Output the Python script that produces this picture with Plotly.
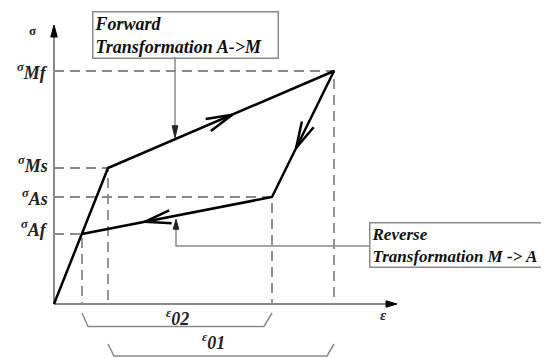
import math
import plotly.graph_objects as go

# ---------------- data (schematic units) ----------------
point_names = ["O", "Ms", "Mf", "As", "Af"]
strain = [0.0, 5.4, 28.0, 21.8, 2.8]
stress = [0.0, 13.6, 23.3, 10.7, 7.0]

# critical levels with dashed guides
level_names = ["Mf", "Ms", "As", "Af"]

# direction chevrons: segment start, segment end, fraction along it
chev_from = ["Ms", "Mf", "As"]
chev_to = ["Mf", "As", "Af"]
chev_frac = [0.55, 0.61, 0.67]

# strain brackets
bracket_labels = ["ε02", "ε01"]
bracket_from = ["Af", "Ms"]
bracket_to = ["As", "Mf"]

axis_max_strain = 34.3
axis_max_stress = 27.9

box_texts = ["Forward<br>Transformation A->M", "Reverse<br>Transformation M -> A"]

# ---------------- helpers ----------------
P = {n: (e, s) for n, e, s in zip(point_names, strain, stress)}
FONT = "Liberation Serif"
GRAY = "#8a8a8a"

fig = go.Figure()


def line(xs, ys, color="black", width=2.5, dash=None):
    fig.add_trace(go.Scatter(x=xs, y=ys, mode="lines",
                             line=dict(color=color, width=width, dash=dash),
                             hoverinfo="skip"))


def head(tip, d, L, w, color="black"):
    n = math.hypot(*d)
    ux, uy = d[0] / n, d[1] / n
    bx, by = tip[0] - ux * L, tip[1] - uy * L
    nx, ny = -uy, ux
    fig.add_trace(go.Scatter(
        x=[tip[0], bx + nx * w, bx - nx * w, tip[0]],
        y=[tip[1], by + ny * w, by - ny * w, tip[1]],
        mode="lines", fill="toself", fillcolor=color,
        line=dict(color=color, width=1), hoverinfo="skip"))


def chevron(tip, d, L, ang):
    n = math.hypot(*d)
    ux, uy = -d[0] / n, -d[1] / n
    xs, ys = [], []
    for sgn in (1, -1):
        a = math.radians(ang) * sgn
        rx = ux * math.cos(a) - uy * math.sin(a)
        ry = ux * math.sin(a) + uy * math.cos(a)
        xs += [tip[0] + rx * L, tip[0], None]
        ys += [tip[1] + ry * L, tip[1], None]
    line(xs, ys, width=2.5)


def on_line(a, b, x):
    (x0, y0), (x1, y1) = P[a], P[b]
    return y0 + (x - x0) * (y1 - y0) / (x1 - x0)


# ---------------- axes ----------------
line([0, axis_max_strain - 0.8], [0, 0], color=GRAY, width=2)
line([0, 0], [0, axis_max_stress - 0.8], color=GRAY, width=2)
head((axis_max_strain, 0), (1, 0), 1.1, 0.32)
head((0, axis_max_stress), (0, 1), 1.2, 0.32)

# ---------------- dashed guides ----------------
for n in level_names:
    e, s = P[n]
    line([0, e, e], [s, s, 0], color=GRAY, width=1.8, dash="10px,6px")

# ---------------- main loop ----------------
line([P[n][0] for n in point_names], [P[n][1] for n in point_names],
     color="black", width=2.5)

for a, b, f in zip(chev_from, chev_to, chev_frac):
    (x0, y0), (x1, y1) = P[a], P[b]
    tip = (x0 + f * (x1 - x0), y0 + f * (y1 - y0))
    chevron(tip, (x1 - x0, y1 - y0), 2.7, 14)

# ---------------- brackets ----------------
br_geom = [(-0.9, -2.25, 0.6, 0.8), (-4.0, -5.2, 0.6, 0.7)]
for (lab, a, b), (ytop, ybot, il, ir) in zip(zip(bracket_labels, bracket_from, bracket_to), br_geom):
    x0, x1 = P[a][0], P[b][0]
    line([x0, x0 + il, x1 - ir, x1], [ytop, ybot, ybot, ytop], color=GRAY, width=1.5)

bracket_label_pos = [(12.3, -1.35), (15.9, -3.75)]
for lab, (bx, by) in zip(bracket_labels, bracket_label_pos):
    fig.add_annotation(x=bx, y=by, showarrow=False,
                       text="<b><i><sup>" + lab[0] + "</sup>" + lab[1:] + "</i></b>",
                       font=dict(family=FONT, size=18, color="#222"))

# ---------------- level labels ----------------
label_shift = {"Mf": 0, "Ms": 4, "As": 0, "Af": 6}
for n in level_names:
    fig.add_annotation(x=-0.4, y=P[n][1], xanchor="right", yanchor="middle",
                       yshift=label_shift[n], showarrow=False,
                       text="<b><i><sup>σ</sup>" + n + "</i></b>",
                       font=dict(family=FONT, size=18, color="#222"))

# axis labels
fig.add_annotation(x=-2.2, y=27.4, showarrow=False, text="<b>σ</b>",
                   font=dict(family=FONT, size=13, color="#222"))
fig.add_annotation(x=32.9, y=-1.1, showarrow=False, text="<b><i>ε</i></b>",
                   font=dict(family=FONT, size=15, color="#222"))

# ---------------- callout boxes ----------------
fig.add_annotation(x=3.8, y=29.3, xanchor="left", yanchor="top", showarrow=False,
                   text="<b><i>" + box_texts[0] + "</i></b>", align="left",
                   width=182, bordercolor=GRAY, borderwidth=1.5, borderpad=1,
                   font=dict(family=FONT, size=18, color="#111"))
fig.add_annotation(x=31.5, y=8.2, xanchor="left", yanchor="top", showarrow=False,
                   text="<b><i>" + box_texts[1] + "</i></b>", align="left",
                   width=172, bordercolor=GRAY, borderwidth=1.5, borderpad=1,
                   font=dict(family=FONT, size=17, color="#111"))

# forward leader
fx = 12.1
fy = on_line("Ms", "Mf", fx) + 0.15
line([fx, fx], [24.7, fy + 1.0], color=GRAY, width=1.5)
head((fx, fy), (0, -1), 1.2, 0.28, color="#222")

# reverse leader
rx = 12.2
ry = on_line("As", "Af", rx) - 0.35
line([31.5, rx, rx], [5.8, 5.8, ry - 0.9], color=GRAY, width=1.5)
head((rx, ry), (0, 1), 1.0, 0.28, color="#222")

# the page body adds an 8px margin, so the figure is sized to fill the rest
fig.update_layout(
    width=541, height=350, margin=dict(l=0, r=0, t=0, b=0),
    paper_bgcolor="white", plot_bgcolor="white", showlegend=False,
    xaxis=dict(range=[-4.6, 49.5], visible=False, fixedrange=True),
    yaxis=dict(range=[-5.4, 29.6], visible=False, fixedrange=True),
)

fig.write_html("out.html")
